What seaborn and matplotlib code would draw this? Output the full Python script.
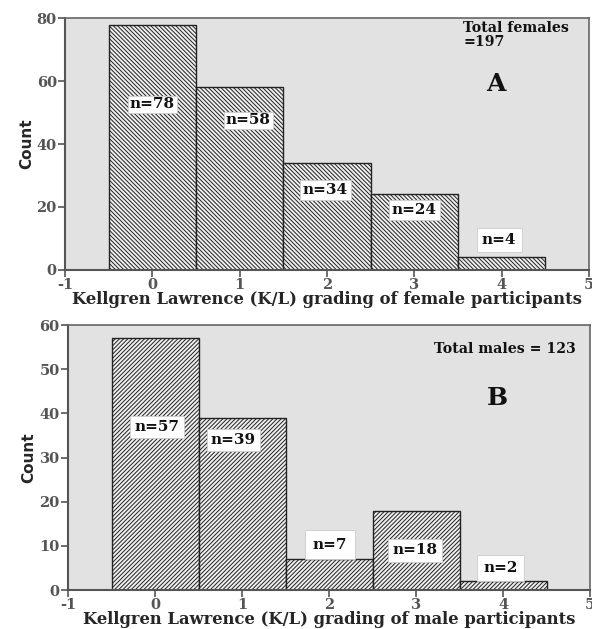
import matplotlib
matplotlib.use("Agg")
import matplotlib.pyplot as plt
import seaborn as sns
import pandas as pd

# Kellgren-Lawrence grades and counts per sex
grades = [0, 1, 2, 3, 4]
female_counts = [78, 58, 34, 24, 4]
male_counts = [57, 39, 7, 18, 2]
female_labels = ["n=78", "n=58", "n=34", "n=24", "n=4"]
male_labels = ["n=57", "n=39", "n=7", "n=18", "n=2"]
xticks = [-1, 0, 1, 2, 3, 4, 5]
female_yticks = [0, 20, 40, 60, 80]
male_yticks = [0, 10, 20, 30, 40, 50, 60]

sns.set_theme(style="white")
plt.rcParams["font.family"] = ["DejaVu Serif"]
plt.rcParams["hatch.linewidth"] = 0.7
plt.rcParams["hatch.color"] = "#333333"

fig = plt.figure(figsize=(5.92, 6.29), dpi=100)
ax1 = fig.add_axes([0.110, 0.571, 0.885, 0.400])
ax2 = fig.add_axes([0.115, 0.062, 0.882, 0.421])

serif_bold = dict(family=["DejaVu Serif"], weight="bold")


def panel(ax, counts, labels, yticks, hatch, xlabel, label_pos, total_text,
          total_pos, letter_pos, letter, label_pads):
    df = pd.DataFrame({"grade": grades, "count": counts})
    sns.barplot(data=df, x="grade", y="count", native_scale=True, width=1.0,
                color="#e6e6e6", edgecolor="#222222", linewidth=1.0, ax=ax,
                errorbar=None)
    for p in ax.patches:
        p.set_hatch(hatch)
        p.set_facecolor("#eeeeee")
    ax.set_facecolor("#e2e2e2")
    ax.set_xlim(-1, 5)
    ax.set_ylim(0, yticks[-1])
    ax.set_xticks(xticks)
    ax.set_yticks(yticks)
    ax.set_xticklabels([str(t) for t in xticks], fontsize=10.5, color="#555555",
                       **serif_bold)
    ax.set_yticklabels([str(t) for t in yticks], fontsize=10.5, color="#555555",
                       **serif_bold)
    ax.tick_params(axis="both", direction="out", length=5, width=1.2,
                   color="#555555", pad=1, bottom=True, left=True)
    for side in ["left", "bottom"]:
        ax.spines[side].set_color("#555555")
        ax.spines[side].set_linewidth(1.5)
    for side in ["top", "right"]:
        ax.spines[side].set_color("#666666")
        ax.spines[side].set_linewidth(1.2)
    ax.set_xlabel(xlabel, fontsize=11.8, labelpad=-1, **serif_bold)
    ax.set_ylabel("Count", fontsize=11, fontweight="bold",
                  family=["DejaVu Sans"], labelpad=2)
    for (x, y), txt, pad in zip(label_pos, labels, label_pads):
        ax.text(x, y, txt, ha="center", va="center", fontsize=11,
                color="#111111", **serif_bold,
                bbox=dict(boxstyle=f"square,pad={pad}", facecolor="white",
                          edgecolor="#cccccc", linewidth=0.6))
    ax.text(total_pos[0], total_pos[1], total_text, ha="left", va="top",
            fontsize=10.2, color="#111111", linespacing=1.0, **serif_bold)
    ax.text(letter_pos[0], letter_pos[1], letter, ha="center", va="center",
            fontsize=18, color="#111111", **serif_bold)


panel(ax1, female_counts, female_labels, female_yticks, "\\\\\\\\\\\\\\\\",
      "Kellgren Lawrence (K/L) grading of female participants",
      [(0.0, 52.7), (1.1, 47.6), (1.98, 25.4), (3.0, 19.0), (3.97, 9.5)],
      "Total females\n=197", (3.56, 79.0), (3.93, 59), "A",
      [0.1, 0.1, 0.18, 0.18, 0.35])

panel(ax2, male_counts, male_labels, male_yticks, "////////",
      "Kellgren Lawrence (K/L) grading of male participants",
      [(0.02, 36.9), (0.9, 34.0), (2.01, 10.3), (2.99, 9.0), (3.97, 4.9)],
      "Total males = 123", (3.2, 56.3), (3.93, 43.5), "B",
      [0.28, 0.28, 0.5, 0.28, 0.4])

fig.savefig("out.png", dpi=100, facecolor="white")
